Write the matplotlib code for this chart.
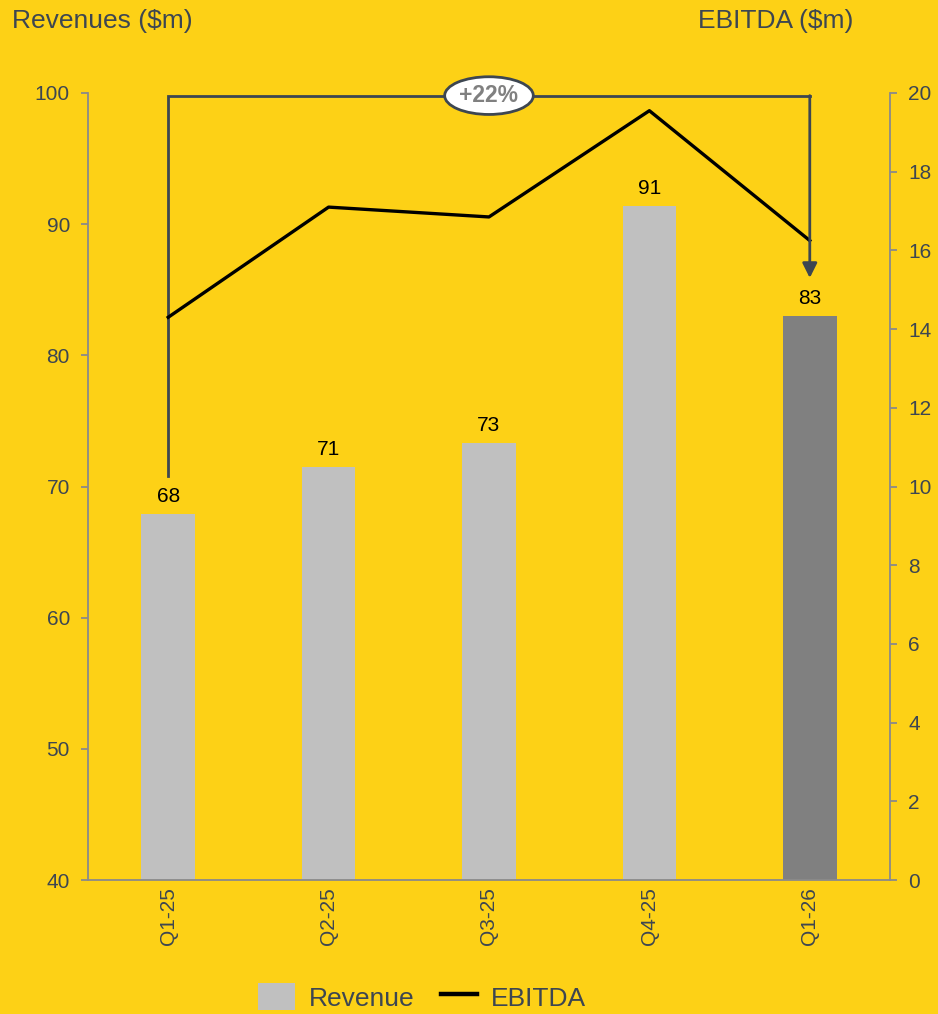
import matplotlib.pyplot as plt

plt.rcParams['font.family'] = ['Liberation Sans', 'DejaVu Sans']

quarters = ["Q1-25", "Q2-25", "Q3-25", "Q4-25", "Q1-26"]
revenue = [67.9, 71.5, 73.3, 91.4, 83.0]
revenue_labels = ["68", "71", "73", "91", "83"]
ebitda = [14.3, 17.1, 16.85, 19.55, 16.25]
growth_label = "+22%"

bg = "#FDD116"
text_col = "#3D4651"
axis_col = "#8A8A8A"
bar_cols = ["#C0C0C0"] * 4 + ["#808080"]

fig = plt.figure(figsize=(9.38, 10.14), dpi=100, facecolor=bg)
ax = fig.add_axes([0.0938, 0.1321, 0.855, 0.7762], facecolor=bg)
ax2 = ax.twinx()

x = range(len(quarters))
ax.bar(x, revenue, width=0.335, color=bar_cols, label="Revenue", zorder=2)
for xi, v, lab in zip(x, revenue, revenue_labels):
    ax.text(xi, v + 0.6, lab, ha="center", va="bottom", fontsize=15, color="black")

ax2.plot(x, ebitda, color="black", lw=2.4, label="EBITDA", zorder=3)

ax.set_xlim(-0.5, len(quarters) - 0.5)
ax.set_ylim(40, 100)
ax2.set_ylim(0, 20)
ax.set_yticks(range(40, 101, 10))
ax2.set_yticks(range(0, 21, 2))
ax.set_xticks(list(x))
ax.set_xticklabels(quarters, rotation=90)

for a in (ax, ax2):
    for s in a.spines.values():
        s.set_color(axis_col)
        s.set_linewidth(1.3)
    a.spines["top"].set_visible(False)
    a.tick_params(colors=axis_col, labelcolor=text_col, labelsize=15, width=1.3, length=5)
ax.spines["right"].set_visible(False)
ax2.spines["left"].set_visible(False)
ax2.spines["bottom"].set_visible(False)
ax.tick_params(axis="x", length=0, pad=5)
ax.tick_params(axis="y", pad=8)
ax2.tick_params(axis="y", pad=8)

# growth bracket
top = 99.8
y_start = revenue[0] + 2.9
y_end = revenue[-1] + 2.9
ax2.set_zorder(ax.get_zorder() + 1)
ax2.patch.set_visible(False)
bracket_col = "#3D4651"
ax.plot([0, 0, len(quarters) - 1, len(quarters) - 1], [y_start, top, top, top],
        color=bracket_col, lw=2, zorder=4, solid_joinstyle="miter")
ax2.annotate("", xy=(len(quarters) - 1, (y_end - 40) / 3), xytext=(len(quarters) - 1, (top - 40) / 3),
             arrowprops=dict(arrowstyle="-|>", color=bracket_col, lw=2, mutation_scale=22,
                             shrinkA=0, shrinkB=0), zorder=5)
ax2.text((len(quarters) - 1) / 2, (top - 40) / 3, growth_label, ha="center", va="center",
         fontsize=16.5, fontweight="bold", color="#808080", zorder=6,
         bbox=dict(boxstyle="ellipse,pad=0.08", fc="white", ec=bracket_col, lw=2))

fig.text(0.013, 0.979, "Revenues ($m)", fontsize=19, color=text_col, va="center", ha="left")
fig.text(0.91, 0.979, "EBITDA ($m)", fontsize=19, color=text_col, va="center", ha="right")

h1, l1 = ax.get_legend_handles_labels()
h2, l2 = ax2.get_legend_handles_labels()
leg = fig.legend(h1 + h2, l1 + l2, loc="lower center", bbox_to_anchor=(0.45, -0.02), ncol=2,
                 frameon=False, fontsize=19, labelcolor=text_col, handlelength=1.4,
                 handleheight=1.2, handletextpad=0.5, columnspacing=1.0)
leg.get_lines()[0].set_linewidth(3.2)

fig.savefig("out.png", dpi=100, facecolor=bg)
